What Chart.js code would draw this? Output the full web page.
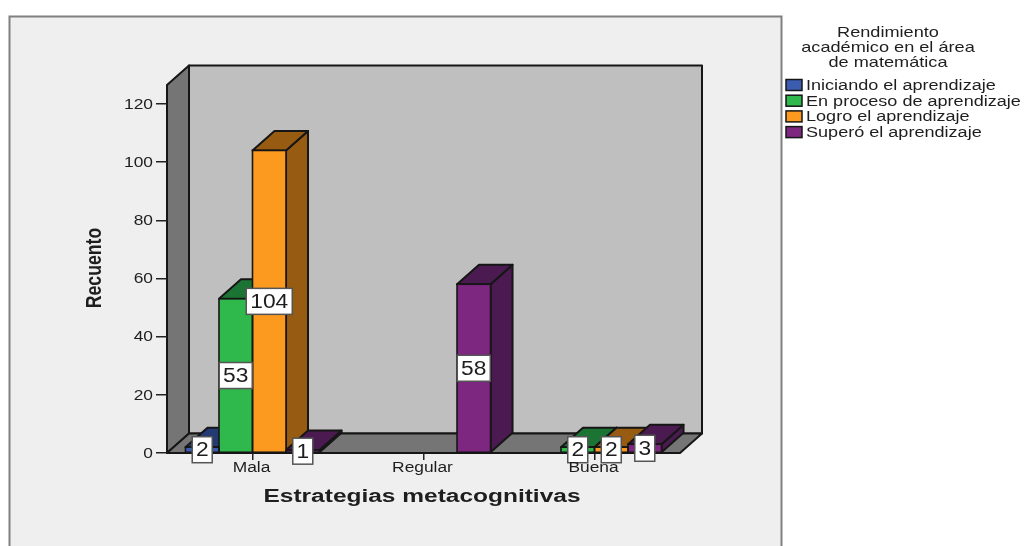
<html>
<head>
  <meta charset="utf-8" />
  <style>
    body { margin: 0; background: #ffffff; }
    canvas { display: block; }
  </style>
</head>
<body>
  <canvas id="recuentoChart" width="1024" height="546"></canvas>
  <script src="https://cdn.jsdelivr.net/npm/chart.js@4.4.0/dist/chart.umd.min.js"></script>
  <script>
    // chart data
    let categories = ["Mala", "Regular", "Buena"];
    let seriesNames = [
      "Iniciando el aprendizaje",
      "En proceso de aprendizaje",
      "Logro el aprendizaje",
      "Superó el aprendizaje",
    ];
    let iniciando = [2, null, null];
    let enProceso = [53, null, 2];
    let logro = [104, null, 2];
    let supero = [1, 58, 3];

    let xTitle = "Estrategias metacognitivas";
    let yTitle = "Recuento";
    let legendTitle = ["Rendimiento", "académico en el área", "de matemática"];

    // chart colors: front face, shaded side/top
    let frontColors = ["#3b5cb0", "#2fb84c", "#fb9a1e", "#7e2780"];
    let shadeColors = ["#233a72", "#1c7434", "#975b12", "#4a1a50"];
    let edgeColor = "#161616";
    let textColor = "#1e1e1e";

    // depth of the fake 3d box, in pixels
    let depthX = 22;
    let depthY = 19.5;

    function polygon(ctx, points, fill) {
      ctx.beginPath();
      points.forEach((p, i) => (i ? ctx.lineTo(p[0], p[1]) : ctx.moveTo(p[0], p[1])));
      ctx.closePath();
      ctx.fillStyle = fill;
      ctx.fill();
      ctx.stroke();
    }

    // text is wider than the font by a given factor
    function wideText(ctx, text, x, y, size, stretch, align, bold) {
      ctx.save();
      ctx.translate(x, y);
      ctx.scale(stretch, 1);
      ctx.font = (bold ? "bold " : "") + size + "px 'Liberation Sans', Arial, sans-serif";
      ctx.fillStyle = textColor;
      ctx.textAlign = align;
      ctx.textBaseline = "middle";
      ctx.fillText(text, 0, 0);
      ctx.restore();
    }

    // calls fn for every bar that has a value
    function eachBar(chart, fn) {
      chart.data.datasets.forEach((ds, i) => {
        chart.getDatasetMeta(i).data.forEach((bar, j) => {
          if (ds.data[j] !== null) fn(bar, i, ds.data[j]);
        });
      });
    }

    // frame, back wall, side wall and floor
    let boxPlugin = {
      id: "box",
      beforeDraw(chart) {
        let ctx = chart.ctx;
        let a = chart.chartArea;
        ctx.save();
        ctx.fillStyle = "#efefef";
        ctx.fillRect(9.5, 16.5, 772, 540);
        ctx.strokeStyle = "#808080";
        ctx.lineWidth = 2;
        ctx.strokeRect(9.5, 16.5, 772, 540);

        ctx.strokeStyle = edgeColor;
        ctx.lineWidth = 2;
        ctx.lineJoin = "round";
        polygon(ctx, [[a.left + depthX, a.top - depthY], [a.right + depthX, a.top - depthY],
          [a.right + depthX, a.bottom - depthY], [a.left + depthX, a.bottom - depthY]], "#bfbfbf");
        polygon(ctx, [[a.left, a.top], [a.left + depthX, a.top - depthY],
          [a.left + depthX, a.bottom - depthY], [a.left, a.bottom]], "#757575");
        polygon(ctx, [[a.left, a.bottom], [a.left + depthX, a.bottom - depthY],
          [a.right + depthX, a.bottom - depthY], [a.right, a.bottom]], "#757575");
        ctx.restore();
      },
      // side and top of every bar go under the library's front faces
      beforeDatasetsDraw(chart) {
        let ctx = chart.ctx;
        ctx.save();
        ctx.strokeStyle = edgeColor;
        ctx.lineWidth = 2;
        ctx.lineJoin = "round";
        eachBar(chart, (bar, i) => {
          let l = bar.x - bar.width / 2;
          let r = bar.x + bar.width / 2;
          polygon(ctx, [[r, bar.y], [r + depthX, bar.y - depthY],
            [r + depthX, bar.base - depthY], [r, bar.base]], shadeColors[i]);
          polygon(ctx, [[l, bar.y], [l + depthX, bar.y - depthY],
            [r + depthX, bar.y - depthY], [r, bar.y]], shadeColors[i]);
        });
        ctx.restore();
      },
      // outline centred on the bar edge, so short bars keep their colour
      afterDatasetsDraw(chart) {
        let ctx = chart.ctx;
        ctx.save();
        ctx.strokeStyle = edgeColor;
        ctx.lineWidth = 1.6;
        eachBar(chart, (bar) => {
          ctx.strokeRect(bar.x - bar.width / 2, bar.y, bar.width, bar.base - bar.y);
        });
        ctx.restore();
      },
      afterDraw(chart) {
        let ctx = chart.ctx;
        let xScale = chart.scales.x;
        let yScale = chart.scales.y;

        // value boxes
        ctx.save();
        eachBar(chart, (bar, i, value) => {
          let label = String(value);
          let w = 7 + label.length * 13;
          let h = 26;
          let cy = (bar.y + bar.base) / 2;
          ctx.fillStyle = "#ffffff";
          ctx.strokeStyle = "#555555";
          ctx.lineWidth = 1.5;
          ctx.fillRect(bar.x - w / 2, cy - h / 2, w, h);
          ctx.strokeRect(bar.x - w / 2, cy - h / 2, w, h);
          wideText(ctx, label, bar.x, cy + 1, 20, 1.14, "center");
        });
        ctx.restore();

        // tick labels
        yScale.ticks.forEach((t, i) => {
          wideText(ctx, t.label, 153, yScale.getPixelForTick(i) + 1, 14, 1.24, "right");
        });
        xScale.ticks.forEach((t, i) => {
          wideText(ctx, categories[t.value], xScale.getPixelForTick(i) - 1, 468, 14, 1.24, "center");
        });

        // axis titles
        wideText(ctx, xTitle, 422, 497, 18, 1.36, "center", true);
        ctx.save();
        ctx.translate(95, 268);
        ctx.rotate(-Math.PI / 2);
        ctx.scale(1, 1.5);
        wideText(ctx, yTitle, 0, 0, 15, 1.18, "center", true);
        ctx.restore();

        // legend
        legendTitle.forEach((line, i) => {
          wideText(ctx, line, 888, 33 + i * 15, 15, 1.21, "center");
        });
        ctx.save();
        ctx.strokeStyle = edgeColor;
        ctx.lineWidth = 1.5;
        seriesNames.forEach((name, i) => {
          let cy = 85 + i * 15.7;
          ctx.fillStyle = frontColors[i];
          ctx.fillRect(786, cy - 5.5, 16, 11);
          ctx.strokeRect(786, cy - 5.5, 16, 11);
          wideText(ctx, name, 806, cy + 1, 14, 1.29, "left");
        });
        ctx.restore();
      },
    };

    function buildDataset(name, values, index) {
      return {
        label: name,
        data: values,
        backgroundColor: frontColors[index],
        borderWidth: 0,
        categoryPercentage: 0.784,
        barPercentage: 1,
      };
    }

    new Chart(document.getElementById("recuentoChart").getContext("2d"), {
      type: "bar",
      data: {
        labels: categories,
        datasets: [
          buildDataset(seriesNames[0], iniciando, 0),
          buildDataset(seriesNames[1], enProceso, 1),
          buildDataset(seriesNames[2], logro, 2),
          buildDataset(seriesNames[3], supero, 3),
        ],
      },
      options: {
        responsive: false,
        animation: false,
        layout: { padding: { top: 85, right: 344 } },
        plugins: { legend: { display: false }, tooltip: { enabled: false } },
        scales: {
          x: {
            afterFit(scale) { scale.height = 93; },
            grid: { offset: false, drawOnChartArea: false, tickLength: 7, color: "#222222", lineWidth: 1.5 },
            border: { display: false },
            ticks: { display: false },
          },
          y: {
            min: 0,
            max: 126.5,
            afterFit(scale) { scale.width = 167; },
            grid: { drawOnChartArea: false, tickLength: 11, color: "#222222", lineWidth: 1.5 },
            border: { display: false },
            ticks: { display: false, stepSize: 20, includeBounds: false },
          },
        },
      },
      plugins: [boxPlugin],
    });
  </script>
</body>
</html>
